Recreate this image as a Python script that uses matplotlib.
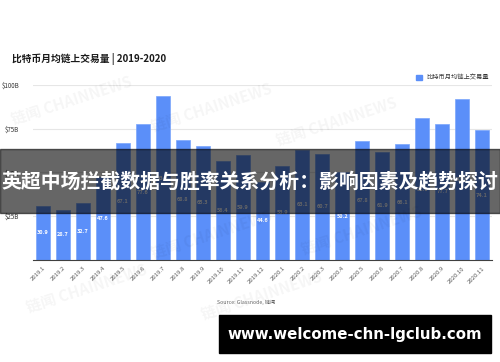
#! /usr/bin/env python3
import numpy as np
import matplotlib
matplotlib.use('Agg')
import matplotlib.pyplot as plt

plt.rcParams['font.family'] = ['Noto Sans CJK SC', 'DejaVu Sans']

months = ['2019.1', '2019.2', '2019.3', '2019.4', '2019.5', '2019.6', '2019.7', '2019.8',
          '2019.9', '2019.10', '2019.11', '2019.12', '2020.1', '2020.2', '2020.3', '2020.4',
          '2020.5', '2020.6', '2020.7', '2020.8', '2020.9', '2020.10', '2020.11']
volume = [30.9, 28.7, 32.7, 47.6, 67.1, 77.6, 93.7, 68.8, 65.3, 56.4, 59.9, 44.6,
          53.9, 63.1, 60.7, 50.2, 67.8, 61.9, 66.1, 81.0, 77.7, 92.0, 74.1]
ytick_vals = [25, 50, 75, 100]
ytick_labels = ['$25B', '$50B', '$75B', '$100B']

title = '比特币月均链上交易量 | 2019-2020'
legend_name = '比特币月均链上交易量'
banner = '英超中场拦截数据与胜率关系分析：影响因素及趋势探讨'
source = 'Source: Glassnode, 链闻'
site = 'www.welcome-chn-lgclub.com'

bar_color = '#5B8FF9'

fig = plt.figure(figsize=(5, 3.62), dpi=100)
ax1 = fig.add_axes([0.066, 0.282, 0.918, 0.483])

x = np.arange(len(months))
ax1.bar(x, volume, width=0.7, color=bar_color, edgecolor='#7aa5fb', linewidth=0.5, zorder=3)
for xi, v in zip(x, volume):
    ax1.text(xi, v / 2, '%.1f' % v, ha='center', va='center', color='white',
             fontsize=4, fontweight='bold', zorder=4)

ax1.set_xlim(-0.5, len(months) - 0.5)
ax1.set_ylim(0, 100)
ax1.set_yticks(ytick_vals)
ax1.set_yticklabels(ytick_labels)
ax1.set_xticks(x)
ax1.set_xticklabels(months, rotation=45, ha='right', rotation_mode='anchor')
ax1.tick_params(axis='x', length=0, pad=4, labelsize=4.3, colors='#595959')
ax1.tick_params(axis='y', length=0, pad=10, labelsize=4.5, colors='#333333')
ax1.grid(axis='y', color='#e6e6e6', linewidth=0.8, zorder=0)
for s in ['top', 'right', 'left']:
    ax1.spines[s].set_visible(False)
ax1.spines['bottom'].set_color('#404040')
ax1.spines['bottom'].set_linewidth(0.8)
ax1.spines['bottom'].set_zorder(5)

# title and legend
fig.text(0.024, 0.837, title, fontsize=7, fontweight='bold', color='#1a1a1a', va='center')
fig.patches.append(plt.Rectangle((0.832, 0.779), 0.011, 0.015, transform=fig.transFigure,
                                 color=bar_color, figure=fig))
fig.text(0.853, 0.786, legend_name, fontsize=4.5, color='#333333', va='center')

# faint watermarks
for wx, wy in [(0.02, 0.72), (0.30, 0.70), (0.55, 0.66),
               (0.30, 0.35), (0.60, 0.36), (0.05, 0.20), (0.40, 0.18)]:
    fig.text(wx, wy, '链闻 CHAINNEWS', fontsize=11, fontweight='bold', color='#000000',
             alpha=0.04, rotation=18, ha='left', va='center')

# dark banner with headline
fig.patches.append(plt.Rectangle((0, 1 - 213 / 362), 1, 64 / 362, transform=fig.transFigure,
                                 color='black', alpha=0.6, figure=fig, zorder=10))
fig.text(0.5, 1 - 181 / 362, banner, fontsize=14.3, fontweight='bold', color='white',
         ha='center', va='center', zorder=11)

# source and site box
fig.text(0.434, 1 - 302 / 362, source, fontsize=3.8, color='#666666', va='center')
fig.patches.append(plt.Rectangle((219 / 500, 1 - 353 / 362), 272 / 500, 38 / 362,
                                 transform=fig.transFigure, color='black', figure=fig, zorder=10))
fig.text(355 / 500, 1 - 334 / 362, site, fontsize=10.8, fontweight='bold', color='white',
         ha='center', va='center', family=['DejaVu Sans'], zorder=11)

fig.savefig('out.png', dpi=100)
